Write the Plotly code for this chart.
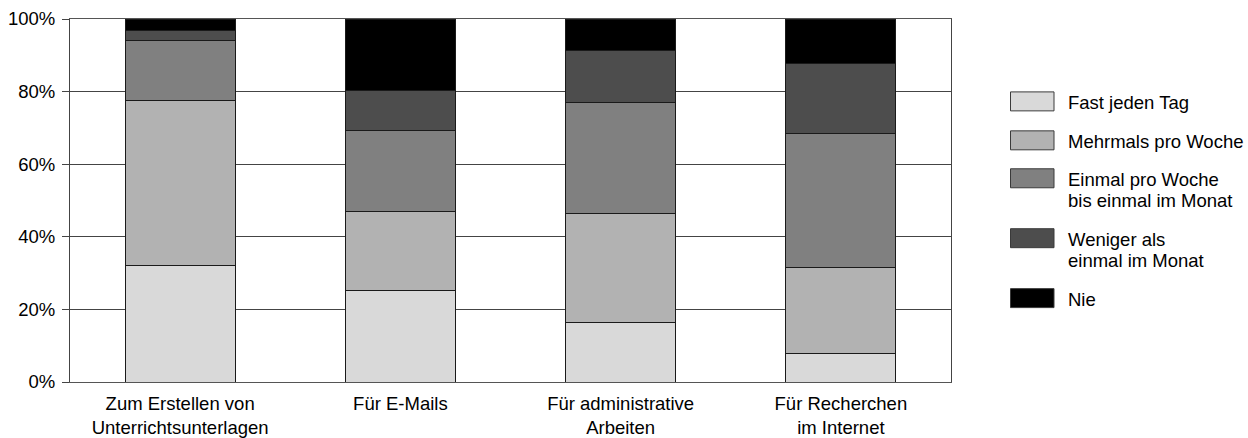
import plotly.graph_objects as go

# Survey: how often the computer is used for each purpose (share of respondents, %)
categories = [
    "Zum Erstellen von<br>Unterrichtsunterlagen",
    "Für E-Mails",
    "Für administrative<br>Arbeiten",
    "Für Recherchen<br>im Internet",
]
series_names = [
    "Fast jeden Tag",
    "Mehrmals pro Woche",
    "Einmal pro Woche<br>bis einmal im Monat",
    "Weniger als<br>einmal im Monat",
    "Nie",
]
fast_jeden_tag = [32.0, 25.1, 16.3, 7.9]
mehrmals_pro_woche = [45.5, 22.0, 30.0, 23.6]
einmal_pro_woche = [16.7, 22.3, 30.8, 36.9]
weniger_als_monatlich = [2.6, 10.8, 14.2, 19.3]
nie = [3.2, 19.8, 8.7, 12.3]
series_values = [fast_jeden_tag, mehrmals_pro_woche, einmal_pro_woche,
                 weniger_als_monatlich, nie]
y_ticks = [0, 20, 40, 60, 80, 100]
y_tick_labels = [f"{v}%" for v in y_ticks]

colors = ["#d9d9d9", "#b2b2b2", "#808080", "#4d4d4d", "#000000"]
FONT = "Liberation Sans, Arial, Helvetica, sans-serif"
FSIZE = 18.5

W, H = 1248, 438
PLOT_L, PLOT_R, PLOT_T, PLOT_B = 70, 951, 19, 382.5

fig = go.Figure()
for name, vals, col in zip(series_names, series_values, colors):
    fig.add_trace(go.Bar(
        x=categories, y=vals, name=name.replace("<br>", " "),
        marker=dict(color=col, line=dict(color="#1a1a1a", width=1)),
        width=0.5, showlegend=False,
    ))

# Legend drawn as boxes + labels on the right side
def px_to_paper(px, py):
    return ((px - PLOT_L) / (PLOT_R - PLOT_L), (PLOT_B - py) / (PLOT_B - PLOT_T))

box_centers = [101.5, 140.5, 178.5, 238.5, 298.5]
shapes, annots = [], []
for name, col, cy in zip(series_names, colors, box_centers):
    x0, y0 = px_to_paper(1010.5, cy - 9.5)
    x1, y1 = px_to_paper(1054, cy + 9.5)
    shapes.append(dict(type="rect", xref="paper", yref="paper",
                       x0=x0, x1=x1, y0=y1, y1=y0, fillcolor=col,
                       line=dict(color="#3a3a3a", width=1)))
    for i, line in enumerate(name.split("<br>")):
        tx, ty = px_to_paper(1066, cy + 1 + i * 21)
        annots.append(dict(text=line, xref="paper", yref="paper", x=tx, y=ty,
                           xanchor="left", yanchor="middle", showarrow=False,
                           font=dict(family=FONT, size=FSIZE, color="#000")))

fig.update_layout(
    width=W, height=H,
    margin=dict(l=PLOT_L, r=W - PLOT_R, t=PLOT_T, b=H - PLOT_B, autoexpand=False),
    barmode="stack", bargap=0.5,
    plot_bgcolor="white", paper_bgcolor="white",
    font=dict(family=FONT, size=FSIZE, color="#000"),
    shapes=shapes, annotations=annots,
    xaxis=dict(
        showline=True, linecolor="#555", linewidth=1, mirror=True,
        ticks="", showgrid=False, ticklabelstandoff=5, automargin=False,
        tickfont=dict(family=FONT, size=FSIZE, color="#000"),
    ),
    yaxis=dict(
        range=[0, 100], tickvals=y_ticks, ticktext=y_tick_labels,
        showline=True, linecolor="#444", linewidth=1, mirror=True,
        ticks="outside", ticklen=7, tickcolor="#444",
        showgrid=True, gridcolor="#444", gridwidth=1,
        ticklabelstandoff=3, automargin=False,
        tickfont=dict(family=FONT, size=FSIZE, color="#000"),
        zeroline=False,
    ),
)

fig.write_html("out.html")
